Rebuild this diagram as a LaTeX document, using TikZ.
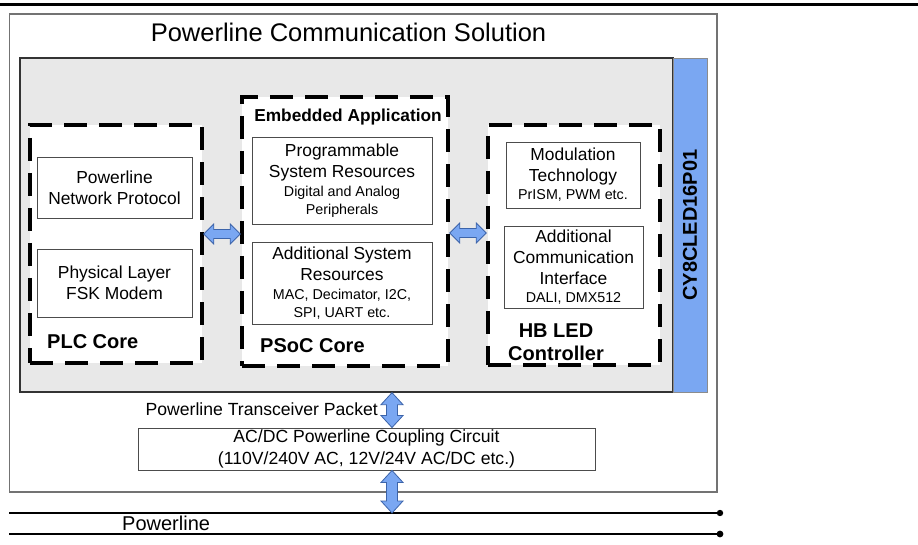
\documentclass[tikz,border=0pt]{standalone}
\usepackage{fontspec}
\setmainfont{Liberation Sans}
\usetikzlibrary{calc}
\definecolor{cblue}{RGB}{122,167,242}
\definecolor{cgray}{RGB}{232,232,232}
\definecolor{arrowline}{RGB}{60,100,170}
\newcommand\fbig{\fontsize{17.4}{21}\selectfont}
\newcommand\fbot{\fontsize{17.6}{21.5}\selectfont}
\newcommand\fsm{\fontsize{14.3}{17}\selectfont}
\newcommand\fbd{\fontsize{20}{23}\selectfont\bfseries}
\newcommand\ftitle{\fontsize{25.5}{30}\selectfont}
\newcommand\hdblarrow[2]{\draw[blkarrow] (#1) -- ++(10,-10) -- ++(0,5.5) -- ($(#2)+(-10,-4.5)$) -- ++(0,-5.5) -- (#2) -- ++(-10,10) -- ++(0,-5.5) -- ($(#1)+(10,4.5)$) -- ++(0,5.5) -- cycle;}
\newcommand\vdblarrow[2]{\draw[blkarrow] (#1) -- ++(11,12) -- ++(-5.5,0) -- ($(#2)+(5.5,-12)$) -- ++(5.5,0) -- (#2) -- ++(-11,-12) -- ++(5.5,0) -- ($(#1)+(-5.5,12)$) -- ++(-5.5,0) -- cycle;}
\begin{document}
\begin{tikzpicture}[x=1pt,y=-1pt,
  outerbox/.style={draw=black!55, line width=1.3pt, fill=white, inner sep=0pt},
  graybox/.style={draw=black!80, line width=1.3pt, fill=cgray, inner sep=0pt},
  bluebar/.style={draw=black!45, line width=0.8pt, fill=cblue, inner sep=0pt},
  dashbox/.style={draw=black, line width=3.6pt, dash pattern=on 23pt off 12pt, fill=white, inner sep=0pt},
  inbox/.style={draw=black!70, line width=0.9pt, fill=white, inner sep=0pt, align=center, font=\fbig},
  blkarrow/.style={draw=arrowline, line width=0.8pt, fill=cblue, line join=miter},
  bold/.style={font=\fbd, inner sep=0pt}]
\useasboundingbox (0,0) rectangle (918,545);
\coordinate (rulea) at (0,4.5);
\coordinate (ruleb) at (918,4.5);
\draw[line width=3pt] (rulea) -- (ruleb);

\node[outerbox, minimum width=707.5pt, minimum height=478pt] (outer) at (363.25,253) {};
\node[font=\ftitle, anchor=base, inner sep=0pt] (title) at (348.5,42) {Powerline Communication Solution};
\node[graybox, minimum width=653pt, minimum height=334pt] (gray) at (346.5,225) {};
\node[bluebar, minimum width=34pt, minimum height=334pt] (bar) at (690,225) {};
\node[bold, rotate=90] (chip) at (690,225) {CY8CLED16P01};

% dashed groups
\node[dashbox, minimum width=172pt, minimum height=238pt] (plc) at (116,244) {};
\node[dashbox, minimum width=206pt, minimum height=269pt] (psoc) at (345,231.5) {};
\node[dashbox, minimum width=172pt, minimum height=240pt] (hbled) at (574,245) {};

\node[bold, anchor=base west] (plcl) at (47,348) {PLC Core};
\node[bold, anchor=base west] (psocl) at (260,352) {PSoC Core};
\node[bold, align=center] (hbl) at (556,342) {HB LED\\Controller};
\node[font=\fontsize{17.3}{20}\selectfont\bfseries, anchor=base, inner sep=0pt] (emb) at (348,121.5) {Embedded Application};

% inner boxes
\node[inbox, minimum width=155pt, minimum height=61pt] (netp) at (114.5,187.5) {Powerline\\Network Protocol};
\node[inbox, minimum width=155pt, minimum height=68pt] (phys) at (114.5,283) {Physical Layer\\FSK Modem};
\node[inbox, minimum width=180pt, minimum height=87pt] (prog) at (342,180.5) {Programmable\\System Resources\\[-2.5pt]\fsm Digital and Analog\\[-3pt]\fsm Peripherals};
\node[inbox, minimum width=180pt, minimum height=82pt] (addsys) at (342,283) {Additional System\\Resources\\[-2pt]\fsm MAC, Decimator, I2C,\\[-3pt]\fsm SPI, UART etc.};
\node[inbox, minimum width=134pt, minimum height=66pt] (modul) at (573,175) {Modulation\\Technology\\[-3pt]\fsm PrISM, PWM etc.};
\node[inbox, minimum width=139pt, minimum height=82pt] (addcom) at (573.5,267) {Additional\\Communication\\Interface\\[-3pt]\fsm DALI, DMX512};

% bottom part
\node[font=\fbot, anchor=base east, inner sep=0pt] (ptp) at (378,415) {Powerline Transceiver Packet};
\node[inbox, font=\fbot, minimum width=457pt, minimum height=42pt] (acdc) at (366.5,449) {AC/DC Powerline Coupling Circuit\\(110V/240V AC, 12V/24V AC/DC etc.)};

\coordinate (pla) at (9,513);
\coordinate (plb) at (720,513);
\coordinate (plc2a) at (9,534);
\coordinate (plc2b) at (720,534);
\draw[line width=1.4pt] (pla) -- (plb);
\draw[line width=2.3pt] (plc2a) -- (plc2b);
\fill (plb) circle (3.2);
\fill (plc2b) circle (3.4);
\node[font=\fontsize{20}{23}\selectfont, anchor=base west, inner sep=0pt] (pll) at (122,530) {Powerline};

% block arrows
\coordinate (h1a) at (plc.east |- 0,234);
\coordinate (h1b) at (psoc.west |- 0,234);
\coordinate (h2a) at (psoc.east |- 0,233);
\coordinate (h2b) at (hbled.west |- 0,233);
\coordinate (v1a) at (gray.south -| 392,0);
\coordinate (v1b) at (acdc.north -| 392,0);
\coordinate (v2a) at (acdc.south -| 392,0);
\coordinate (v2b) at (pla -| 392,0);
\hdblarrow{h1a}{h1b}
\hdblarrow{h2a}{h2b}
\vdblarrow{v1a}{v1b}
\vdblarrow{v2a}{v2b}
\end{tikzpicture}
\end{document}
